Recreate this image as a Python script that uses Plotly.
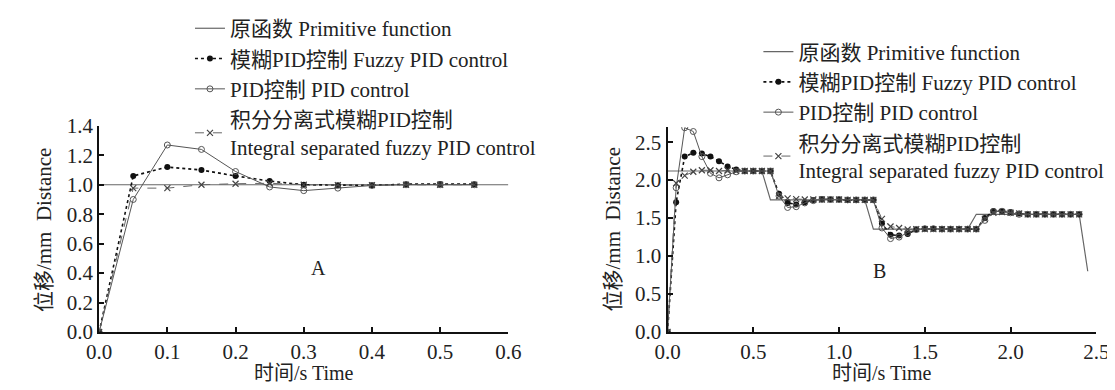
import plotly.graph_objects as go

# ---------------- Data: panel A ----------------
t_a = [0.0, 0.05, 0.1, 0.15, 0.2, 0.25, 0.3, 0.35, 0.4, 0.45, 0.5, 0.55]
prim_a_t = [0.0, 0.6]
prim_a = [1.0, 1.0]
fuzzy_a = [0.0, 1.06, 1.12, 1.10, 1.06, 1.025, 1.0, 0.996, 0.996, 1.004, 1.005, 1.004]
pid_a = [0.0, 0.90, 1.27, 1.24, 1.09, 0.985, 0.96, 0.977, 0.995, 1.0, 1.0, 1.0]
isf_a = [0.0, 0.977, 0.977, 1.0, 1.007, 1.01, 1.0, 0.998, 0.997, 1.0, 1.0, 1.0]

# ---------------- Data: panel B ----------------
t_b = [round(0.05 * i, 2) for i in range(49)]  # 0 .. 2.4
prim_b_t = [0.0, 0.55, 0.6, 1.15, 1.2, 1.75, 1.8, 2.4, 2.45]
prim_b = [2.12, 2.12, 1.74, 1.74, 1.355, 1.355, 1.55, 1.55, 0.8]
fuzzy_b = [0.0, 1.71, 2.31, 2.36, 2.35, 2.31, 2.25, 2.18, 2.14, 2.12,
           2.12, 2.12, 2.12, 1.82, 1.70, 1.68, 1.71, 1.74, 1.75, 1.745,
           1.745, 1.74, 1.74, 1.74, 1.74, 1.43, 1.28, 1.27, 1.29, 1.35,
           1.36, 1.36, 1.355, 1.355, 1.355, 1.355, 1.355, 1.50, 1.595, 1.59,
           1.58, 1.56, 1.55, 1.55, 1.55, 1.55, 1.55, 1.55, 1.55]
pid_b = [0.0, 1.90, 2.69, 2.64, 2.31, 2.09, 2.03, 2.07, 2.11, 2.12,
         2.12, 2.12, 2.12, 1.79, 1.64, 1.65, 1.70, 1.73, 1.745, 1.745,
         1.745, 1.74, 1.74, 1.74, 1.74, 1.37, 1.23, 1.25, 1.31, 1.35,
         1.36, 1.36, 1.355, 1.355, 1.355, 1.355, 1.355, 1.47, 1.585, 1.59,
         1.57, 1.55, 1.55, 1.55, 1.55, 1.55, 1.55, 1.55, 1.55]
isf_b = [0.0, 1.96, 2.06, 2.11, 2.13, 2.13, 2.12, 2.13, 2.12, 2.12,
         2.12, 2.12, 2.12, 1.79, 1.76, 1.75, 1.745, 1.745, 1.745, 1.745,
         1.745, 1.74, 1.74, 1.74, 1.74, 1.49, 1.39, 1.37, 1.35, 1.355,
         1.355, 1.355, 1.355, 1.355, 1.355, 1.355, 1.355, 1.49, 1.57, 1.58,
         1.57, 1.56, 1.55, 1.55, 1.55, 1.55, 1.55, 1.55, 1.55]

names = ["原函数 Primitive function",
         "模糊PID控制 Fuzzy PID control",
         "PID控制 PID control",
         "积分分离式模糊PID控制<br>Integral separated fuzzy PID control"]

x_ticks_a = [0.0, 0.1, 0.2, 0.3, 0.4, 0.5, 0.6]
y_ticks_a = [0.0, 0.2, 0.4, 0.6, 0.8, 1.0, 1.2, 1.4]
x_ticks_b = [0.0, 0.5, 1.0, 1.5, 2.0, 2.5]
y_ticks_b = [0.0, 0.5, 1.0, 1.5, 2.0, 2.5]

FONT = "Liberation Serif, Times New Roman, Noto Sans CJK SC, serif"
W, H = 1115, 390
AX_L, AX_R = 80, 499
BX_L, BX_R = 662, 1101
X_BOT = 332

fig = go.Figure()


def add_panel(xa, ya, leg, tp, yp, tc, yf, yd, yi):
    fig.add_trace(go.Scatter(x=tp, y=yp, mode="lines", name=names[0],
                             line=dict(color="#666666", width=1.2),
                             xaxis=xa, yaxis=ya, legend=leg, legendgroup=leg + "a"))
    fig.add_trace(go.Scatter(x=tc, y=yf, mode="lines+markers", name=names[1],
                             line=dict(color="#111111", width=1.6, dash="dot"),
                             marker=dict(symbol="circle", size=6, color="#111111"),
                             xaxis=xa, yaxis=ya, legend=leg, legendgroup=leg + "b"))
    fig.add_trace(go.Scatter(x=tc, y=yd, mode="lines+markers", name=names[2],
                             line=dict(color="#555555", width=1),
                             marker=dict(symbol="circle-open", size=6, color="#555555",
                                         line=dict(width=1)),
                             xaxis=xa, yaxis=ya, legend=leg, legendgroup=leg + "c"))
    fig.add_trace(go.Scatter(x=tc, y=yi, mode="lines+markers", name=names[3],
                             line=dict(color="#666666", width=1, dash="dash"),
                             marker=dict(symbol="x-thin-open", size=6, color="#444444",
                                         line=dict(width=1.2, color="#444444")),
                             xaxis=xa, yaxis=ya, legend=leg, legendgroup=leg + "d"))


add_panel("x", "y", "legend", prim_a_t, prim_a, t_a, fuzzy_a, pid_a, isf_a)
add_panel("x2", "y2", "legend2", prim_b_t, prim_b, t_b, fuzzy_b, pid_b, isf_b)

y_bot = (H - X_BOT) / H
axis_common = dict(showline=True, linecolor="#111111", linewidth=2,
                   ticks="inside", ticklen=5, tickwidth=2, tickcolor="#111111",
                   showgrid=False, zeroline=False, tickformat=".1f",
                   tickfont=dict(family=FONT, size=21, color="#222222"))

leg_common = dict(font=dict(family=FONT, size=21, color="#222222"),
                  bgcolor="rgba(0,0,0,0)", xanchor="left", yanchor="top",
                  tracegroupgap=0, valign="middle", itemwidth=30)

txt = dict(family=FONT, size=20, color="#222222")
ytxt = dict(family=FONT, size=21, color="#222222")
ytitle = "位移/mm&nbsp;&nbsp;Distance"

fig.update_layout(
    width=W, height=H,
    margin=dict(l=0, r=0, t=0, b=0),
    paper_bgcolor="white", plot_bgcolor="white",
    font=dict(family=FONT, color="#222222"),
    xaxis=dict(domain=[AX_L / W, AX_R / W], range=[0, 0.6], tickvals=x_ticks_a,
               anchor="y", **axis_common),
    yaxis=dict(domain=[y_bot, (H - 110.5) / H], range=[0, 1.4], tickvals=y_ticks_a,
               anchor="x", **axis_common),
    xaxis2=dict(domain=[BX_L / W, BX_R / W], range=[0, 2.5], tickvals=x_ticks_b,
                anchor="y2", **axis_common),
    yaxis2=dict(domain=[y_bot, (H - 111.7) / H], range=[0, 2.7], tickvals=y_ticks_b,
                anchor="x2", **axis_common),
    legend=dict(x=173 / W, y=1 + 16 / H, **leg_common),
    legend2=dict(x=755 / W, y=1 - 9 / H, **leg_common),
    annotations=[
        dict(text="A", x=0.322, y=0.435, xref="x", yref="y", showarrow=False,
             xanchor="center", yanchor="middle", font=txt),
        dict(text="B", x=1.235, y=0.8, xref="x2", yref="y2", showarrow=False,
             xanchor="center", yanchor="middle", font=txt),
        dict(text="时间/s Time", x=(AX_L + AX_R) / 2 / W, y=1 - 376 / H,
             xref="paper", yref="paper", showarrow=False,
             xanchor="center", yanchor="middle", font=txt),
        dict(text="时间/s Time", x=(BX_L + BX_R) / 2 / W, y=1 - 376 / H,
             xref="paper", yref="paper", showarrow=False,
             xanchor="center", yanchor="middle", font=txt),
        dict(text=ytitle, x=23 / W, y=1 - 222 / H, xref="paper", yref="paper",
             showarrow=False, textangle=-90, xanchor="center", yanchor="middle", font=ytxt),
        dict(text=ytitle, x=606 / W, y=1 - 222 / H, xref="paper", yref="paper",
             showarrow=False, textangle=-90, xanchor="center", yanchor="middle", font=ytxt),
    ],
)

fig.write_html("out.html")
